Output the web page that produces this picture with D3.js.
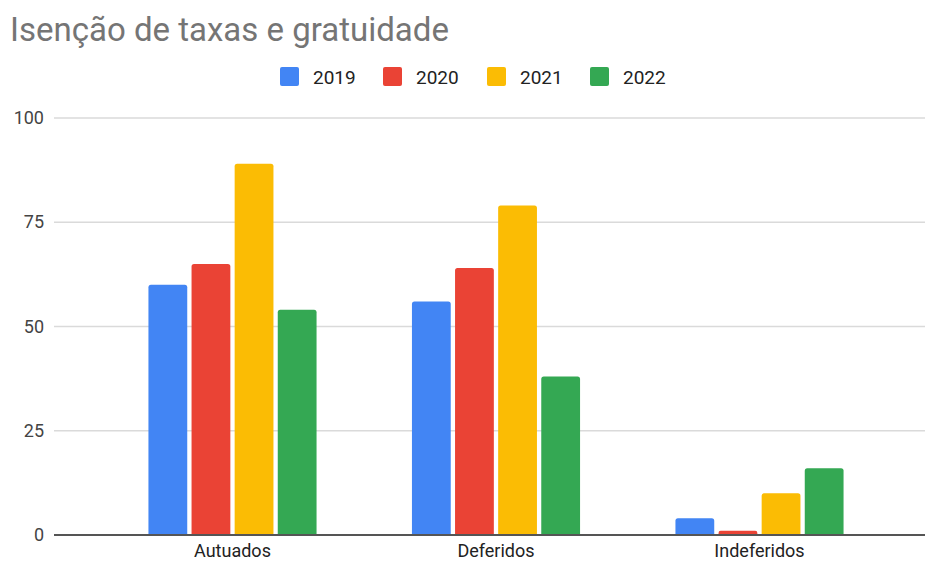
<!DOCTYPE html>
<html lang="pt">
<head>
    <meta charset="UTF-8">
    <title>Isenção de taxas e gratuidade</title>
    <script src="https://d3js.org/d3.v7.min.js"></script>
    <style>
        body { margin: 0; background: #fff; }
        svg { display: block; font-family: Roboto, Arial, sans-serif; }
    </style>
</head>
<body>
<svg id="chart" width="925" height="562"></svg>
<script>
    // data
    const categories = ["Autuados", "Deferidos", "Indeferidos"];
    const years = ["2019", "2020", "2021", "2022"];
    const values2019 = [60, 56, 4];
    const values2020 = [65, 64, 1];
    const values2021 = [89, 79, 10];
    const values2022 = [54, 38, 16];
    const yTicks = [0, 25, 50, 75, 100];
    const colors = ["#4285F4", "#EA4335", "#FBBC04", "#34A853"];

    const series = [values2019, values2020, values2021, values2022];
    const rows = categories.map((c, i) => ({
        cat: c,
        vals: years.map((y, j) => ({ year: y, value: series[j][i], color: colors[j] }))
    }));

    const width = 925, height = 562;
    const svg = d3.select("#chart");

    const y = d3.scaleLinear().domain([0, 100]).range([535, 118]);
    const x = d3.scaleBand().domain(categories).range([100.75, 891.25])
        .paddingInner(0.362).paddingOuter(0.181);
    const xs = d3.scaleBand().domain(years).range([0, x.bandwidth()]).paddingInner(0.1);

    // title
    svg.append("text")
        .attr("x", 10).attr("y", 41)
        .attr("fill", "#757575")
        .style("font-size", "33px")
        .text("Isenção de taxas e gratuidade");

    // legend
    const legendX = [280, 383, 487, 590];
    const leg = svg.append("g").selectAll("g")
        .data(years).enter().append("g")
        .attr("transform", (d, i) => `translate(${legendX[i]},67)`);
    leg.append("rect")
        .attr("width", 19).attr("height", 19).attr("rx", 2)
        .attr("fill", (d, i) => colors[i]);
    leg.append("text")
        .attr("x", 33).attr("y", 16.5)
        .attr("fill", "#222")
        .style("font-size", "19px")
        .text(d => d);

    // gridlines + y labels
    const yAxis = svg.append("g");
    yAxis.selectAll("line")
        .data(yTicks.filter(t => t > 0)).enter().append("line")
        .attr("x1", 54).attr("x2", width)
        .attr("y1", d => y(d)).attr("y2", d => y(d))
        .attr("stroke", "#dadada").attr("stroke-width", 1.5);
    yAxis.selectAll("text")
        .data(yTicks).enter().append("text")
        .attr("x", 44).attr("y", d => y(d) + 6)
        .attr("text-anchor", "end")
        .attr("fill", "#444")
        .style("font-size", "18px")
        .text(d => d);

    // bars
    const groups = svg.append("g").selectAll("g")
        .data(rows).enter().append("g")
        .attr("transform", d => `translate(${x(d.cat)},0)`);
    groups.selectAll("path")
        .data(d => d.vals).enter().append("path")
        .attr("fill", d => d.color)
        .attr("d", d => {
            const x0 = xs(d.year), w = xs.bandwidth();
            const top = y(d.value), base = y(0);
            const r = Math.min(2.5, (base - top) / 2);
            return `M${x0},${base}V${top + r}Q${x0},${top} ${x0 + r},${top}` +
                `H${x0 + w - r}Q${x0 + w},${top} ${x0 + w},${top + r}V${base}Z`;
        });

    // baseline
    svg.append("line")
        .attr("x1", 54).attr("x2", width)
        .attr("y1", y(0)).attr("y2", y(0))
        .attr("stroke", "#555").attr("stroke-width", 2);

    // x labels
    svg.append("g").selectAll("text")
        .data(categories).enter().append("text")
        .attr("x", d => x(d) + x.bandwidth() / 2)
        .attr("y", 557)
        .attr("text-anchor", "middle")
        .attr("fill", "#222")
        .style("font-size", "18px")
        .text(d => d);
</script>
</body>
</html>
